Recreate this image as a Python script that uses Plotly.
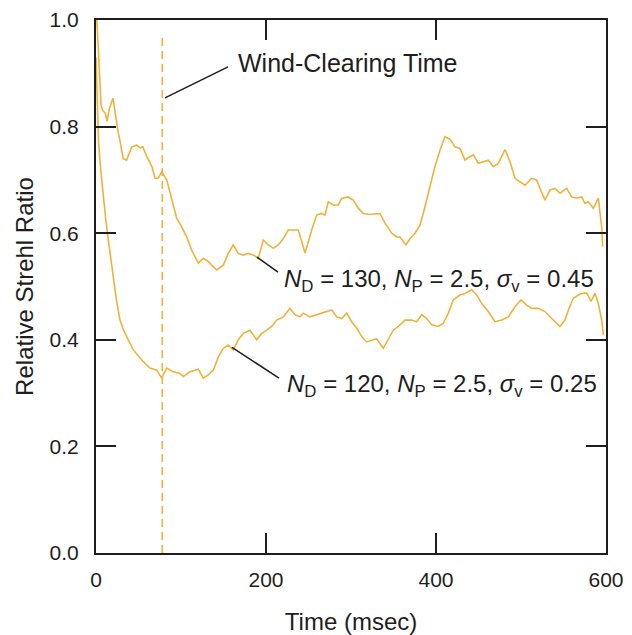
import plotly.graph_objects as go

# ---- data ----
t_upper = [1, 3, 6, 8, 11, 13, 16, 20, 23, 26, 28, 32, 36, 42, 48, 52, 55, 60, 66, 69.4, 73,
           77.3, 83.2, 87.1, 90.9, 94.9, 100.8, 106.7, 112.6, 120.4, 126.2, 132.1, 136.1, 142.0,
           149.8, 155.6, 161.5, 167.4, 173.3, 179.2, 185.1, 190.9, 196.8, 202.7, 208.6, 214.5,
           220.4, 226.2, 238.0, 245.9, 253.8, 259.6, 265.5, 269.4, 273.3, 279.2, 285.1, 289.0,
           296.8, 302.7, 308.6, 314.5, 322.4, 334.1, 340.0, 347.9, 353.8, 357.6, 364.7, 369.4,
           375.3, 381.2, 387.1, 392.9, 398.8, 404.7, 410.6, 416.5, 422.4, 428.2, 434.1, 438.0,
           443.9, 449.8, 455.6, 461.5, 467.4, 473.3, 481.2, 487.1, 492.9, 498.8, 504.7, 512.5,
           518.4, 522.4, 528.2, 534.1, 540.0, 545.9, 553.8, 559.6, 565.5, 571.4, 575.3, 579.2,
           585.1, 591.0, 594.9, 596.1]
v_upper = [1.0, 0.93, 0.84, 0.83, 0.825, 0.81, 0.835, 0.853, 0.82, 0.79, 0.775, 0.74, 0.737,
           0.762, 0.765, 0.76, 0.762, 0.743, 0.724, 0.703, 0.703,
           0.715, 0.700, 0.675, 0.650, 0.628, 0.612, 0.593, 0.568, 0.544, 0.553, 0.547, 0.540,
           0.531, 0.540, 0.562, 0.578, 0.562, 0.559, 0.562, 0.559, 0.553, 0.587, 0.578, 0.572,
           0.578, 0.590, 0.606, 0.606, 0.563, 0.606, 0.634, 0.637, 0.634, 0.659, 0.653, 0.653,
           0.665, 0.668, 0.662, 0.647, 0.637, 0.635, 0.637, 0.619, 0.600, 0.593, 0.593, 0.578,
           0.590, 0.600, 0.615, 0.650, 0.687, 0.725, 0.756, 0.781, 0.776, 0.762, 0.759, 0.737,
           0.742, 0.747, 0.731, 0.734, 0.737, 0.725, 0.731, 0.757, 0.734, 0.703, 0.697, 0.690,
           0.703, 0.700, 0.684, 0.662, 0.681, 0.684, 0.675, 0.684, 0.668, 0.666, 0.668, 0.656,
           0.659, 0.647, 0.666, 0.612, 0.575]

t_lower = [0, 1.6, 3.0, 5.5, 8.6, 11.5, 14.5, 20.4, 24, 28.2, 32, 36.1, 43.9, 55.7, 63.5, 71.4,
           77.3, 83.2, 90.9, 98.8, 102.7, 110.6, 114.5, 120.4, 126.2, 132.1, 138.0, 143.9, 149.8,
           155.6, 161.5, 167.4, 173.3, 181.2, 189.0, 194.9, 200.8, 206.7, 212.6, 220.4, 228.2,
           234.1, 240.0, 243.9, 251.8, 259.6, 265.5, 269.4, 277.3, 283.2, 289.0, 294.9, 300.8,
           306.7, 312.6, 318.5, 326.3, 330.0, 338.0, 343.9, 349.8, 355.6, 363.5, 371.4, 377.3,
           383.2, 389.0, 394.9, 402.7, 408.6, 414.5, 420.4, 428.2, 434.1, 442.0, 447.9, 453.8,
           461.5, 469.4, 477.3, 485.1, 492.9, 500.0, 506.7, 512.5, 520.4, 528.2, 536.1, 545.9,
           551.8, 555.7, 561.6, 569.4, 577.3, 582.4, 587.1, 591.0, 594.9, 596.9]
v_lower = [0.93, 0.85, 0.77, 0.72, 0.668, 0.625, 0.587, 0.512, 0.475, 0.437, 0.420, 0.406,
           0.381, 0.359, 0.347, 0.343, 0.328, 0.347, 0.340, 0.337, 0.331, 0.340, 0.342, 0.345,
           0.328, 0.334, 0.343, 0.368, 0.384, 0.390, 0.381, 0.400, 0.412, 0.418, 0.400, 0.412,
           0.418, 0.425, 0.437, 0.443, 0.459, 0.447, 0.443, 0.450, 0.443, 0.447, 0.450, 0.453,
           0.456, 0.443, 0.440, 0.450, 0.434, 0.422, 0.406, 0.396, 0.400, 0.402, 0.384, 0.400,
           0.418, 0.425, 0.437, 0.437, 0.434, 0.447, 0.440, 0.428, 0.425, 0.431, 0.450, 0.475,
           0.484, 0.487, 0.494, 0.484, 0.468, 0.453, 0.434, 0.437, 0.443, 0.462, 0.475, 0.465,
           0.459, 0.459, 0.453, 0.440, 0.425, 0.437, 0.456, 0.478, 0.486, 0.488, 0.472, 0.487,
           0.468, 0.437, 0.409]

wind_clearing_time = 78
x_ticks = [0, 200, 400, 600]
x_tick_labels = ["0", "200", "400", "600"]
y_ticks = [0.0, 0.2, 0.4, 0.6, 0.8, 1.0]
y_tick_labels = ["0.0", "0.2", "0.4", "0.6", "0.8", "1.0"]

label_wind = "Wind-Clearing Time"
label_upper = "<i>N</i><sub>D</sub> = 130, <i>N</i><sub>P</sub> = 2.5, <i>σ</i><sub>v</sub> = 0.45"
label_lower = "<i>N</i><sub>D</sub> = 120, <i>N</i><sub>P</sub> = 2.5, <i>σ</i><sub>v</sub> = 0.25"

curve_color = "#f0b23a"
ink = "#1e1e1e"
font_family = "Liberation Sans, Arial, Helvetica, sans-serif"

fig = go.Figure()
fig.add_trace(go.Scatter(x=t_upper, y=v_upper, mode="lines",
                         line=dict(color=curve_color, width=1.6), showlegend=False))
fig.add_trace(go.Scatter(x=t_lower, y=v_lower, mode="lines",
                         line=dict(color=curve_color, width=1.6), showlegend=False))

# wind-clearing dashed line
fig.add_shape(type="line", xref="x", yref="y", x0=wind_clearing_time, x1=wind_clearing_time,
              y0=0, y1=0.972, line=dict(color=curve_color, width=1.6, dash="8px,5px"))

# pointer lines
fig.add_shape(type="line", xref="x", yref="y", x0=155.3, y0=0.912, x1=81.2, y1=0.854,
              line=dict(color=ink, width=1.5))
fig.add_shape(type="line", xref="x", yref="y", x0=189.4, y0=0.555, x1=214.1, y1=0.527,
              line=dict(color=ink, width=1.5))
fig.add_shape(type="line", xref="x", yref="y", x0=160.0, y0=0.386, x1=215.3, y1=0.328,
              line=dict(color=ink, width=1.5))

fig.add_annotation(x=165, y=0.919, xref="x", yref="y", text=label_wind, showarrow=False,
                   xanchor="left", yanchor="middle",
                   font=dict(family=font_family, size=25, color=ink))
fig.add_annotation(x=219, y=0.512, xref="x", yref="y", text=label_upper, showarrow=False,
                   xanchor="left", yanchor="middle",
                   font=dict(family=font_family, size=24, color=ink))
fig.add_annotation(x=222, y=0.314, xref="x", yref="y", text=label_lower, showarrow=False,
                   xanchor="left", yanchor="middle",
                   font=dict(family=font_family, size=24, color=ink))

axis_common = dict(showline=True, linecolor=ink, linewidth=2.2, mirror="ticks",
                   ticks="inside", ticklen=20, tickwidth=2, tickcolor=ink,
                   showgrid=False, zeroline=False, automargin=False,
                   tickfont=dict(family=font_family, size=21, color=ink),
                   title_font=dict(family=font_family, size=24, color=ink))

fig.update_xaxes(range=[0, 600], tickvals=x_ticks, ticktext=x_tick_labels,
                 title_text="Time (msec)", title_standoff=24, ticklabelstandoff=7,
                 **axis_common)
fig.update_yaxes(range=[0, 1.0], tickvals=y_ticks, ticktext=y_tick_labels,
                 title_text="Relative Strehl Ratio", title_standoff=9, ticklabelstandoff=11,
                 **axis_common)

# page body has an 8px margin, so the figure is 8px smaller and offset accordingly
fig.update_layout(width=624, height=627, margin=dict(l=88, r=26, t=12, b=82),
                  plot_bgcolor="white", paper_bgcolor="white",
                  font=dict(family=font_family, color=ink))

fig.write_html("out.html")
